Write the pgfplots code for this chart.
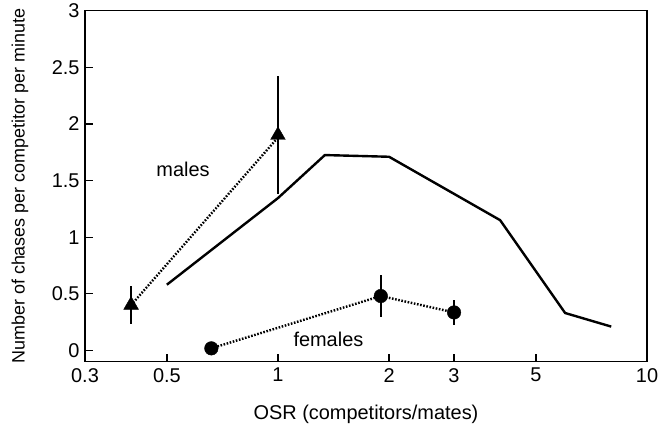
\documentclass[border=0pt]{standalone}
\usepackage{fontspec}
\setmainfont{Liberation Sans}
\usepackage{pgfplots}
\pgfplotsset{compat=1.18}
\begin{document}
\begin{tikzpicture}
\begin{axis}[
  scale only axis, width=562bp, height=351bp,
  xmode=log, xmin=0.3, xmax=10, ymin=-0.1, ymax=3,
  xtick={0.3,0.5,1,2,3,5,10}, xticklabels={0.3,0.5,1,2,3,5,10},
  minor xtick={},
  ytick={0,0.5,1,1.5,2,2.5,3}, yticklabels={0,0.5,1,1.5,2,2.5,3},
  tick pos=left, tick align=inside, major tick length=8bp,
  axis line style={line width=1.3bp},
  tick style={line width=1.3bp, black},
  /pgf/number format/assume math mode=true,
  ticklabel style={font=\fontsize{20}{22}\selectfont},
  xticklabel style={yshift=-3bp},
  yticklabel style={xshift=-2bp},
  xlabel style={font=\fontsize{20}{22}\selectfont, at={(axis description cs:0.5,-0.151)}, anchor=center},
  ylabel style={font=\fontsize{18}{20}\selectfont, at={(axis description cs:-0.1157,0.5)}, anchor=center},
  xlabel={OSR (competitors/mates)},
  ylabel={Number of chases per competitor per minute},
  clip=false,
]
\addplot[black, line width=2.4bp] coordinates {(0.5,0.58)(1,1.345)(1.34,1.725)(2,1.71)(4,1.15)(6,0.33)(8,0.21)};
\addplot[black, line width=2.4bp, dash pattern=on 1.6bp off 1.6bp] coordinates {(0.4,0.4)(1,1.88)};
\addplot[black, only marks, mark=triangle*, mark size=8.5bp,
  error bars/.cd, y dir=both, y explicit, error mark=none,
  error bar style={line width=2.2bp}]
  coordinates {(0.4,0.4) +- (0,0.17) (1,1.9) +- (0,0.52)};
\addplot[black, line width=2.4bp, dash pattern=on 1.6bp off 1.6bp] coordinates {(0.66,0.018)(1.9,0.48)(3,0.335)};
\addplot[black, only marks, mark=*, mark size=6.8bp,
  error bars/.cd, y dir=both, y explicit, error mark=none,
  error bar style={line width=2.2bp}]
  coordinates {(0.66,0.018) +- (0,0) (1.9,0.48) +- (0,0.185) (3,0.335) +- (0,0.11)};
\node[font=\fontsize{20}{22}\selectfont] at (axis cs:0.553,1.596) {males};
\node[font=\fontsize{20}{22}\selectfont] at (axis cs:1.37,0.097) {females};
\end{axis}
\path ([shift={(-85bp,-67bp)}]current axis.south west) rectangle ([shift={(24bp,10.7bp)}]current axis.north east);
\end{tikzpicture}
\end{document}
